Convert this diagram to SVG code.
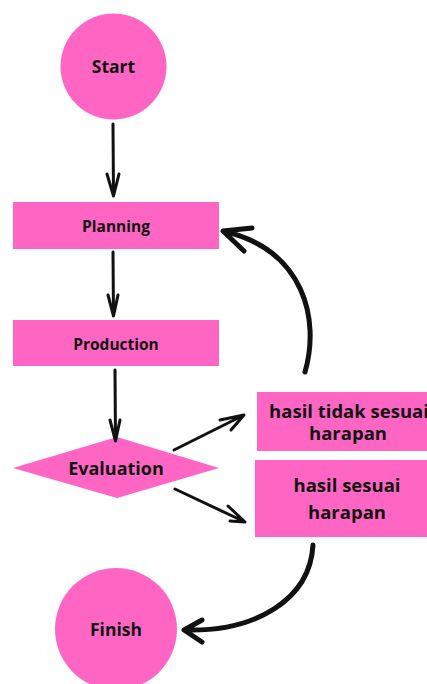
<svg xmlns="http://www.w3.org/2000/svg" width="427" height="684" viewBox="0 0 427 684">
<style>
.n{fill:#ff66c4}
.t{font-family:"Open Sans","Liberation Sans",sans-serif;font-weight:700;fill:#111;text-anchor:middle}
.c{fill:none;stroke:#111;stroke-linecap:round;stroke-linejoin:round}
.s{stroke-width:3}
.k{stroke-width:5}
</style>
<rect width="427" height="684" fill="#fff"/>
<g id="start"><circle class="n" cx="113.5" cy="66.5" r="53"/><text class="t" x="113.5" y="72.5" font-size="17.5">Start</text></g>
<g id="planning"><rect class="n" x="13" y="202" width="206" height="47"/><text class="t" x="116" y="231.5" font-size="15.5">Planning</text></g>
<g id="production"><rect class="n" x="13" y="320" width="206" height="46"/><text class="t" x="116" y="349.5" font-size="15.5">Production</text></g>
<g id="evaluation"><polygon class="n" points="13,468 117,437 219,468 117,498"/><text class="t" x="116" y="474.5" font-size="18">Evaluation</text></g>
<g id="tidak"><rect class="n" x="257" y="392" width="182" height="59"/><text class="t" x="349" y="417.5" font-size="18.5">hasil tidak sesuai</text><text class="t" x="348" y="439.5" font-size="18.5">harapan</text></g>
<g id="sesuai"><rect class="n" x="255" y="460" width="184" height="77"/><text class="t" x="347" y="492" font-size="18.5">hasil sesuai</text><text class="t" x="347" y="519" font-size="18.5">harapan</text></g>
<g id="finish"><circle class="n" cx="116" cy="629" r="61"/><text class="t" x="116" y="636" font-size="17.5">Finish</text></g>
<g id="connectors">
<path class="c s" d="M113,124 L113.5,196 M107,174 L113.5,196 L119,174"/>
<path class="c s" d="M113,252 L113.5,316 M108,295 L113.5,316 L118,295"/>
<path class="c s" d="M115,370 L115.5,441 M110,420 L115.5,441 L120,420"/>
<path class="c s" d="M174,450 L244,415 M220,420 L244,415 L231,430"/>
<path class="c s" d="M175,489 L245,522 M228,506 L245,522 L230,521"/>
<path class="c k" d="M305,372 C320,320 305,250 223,231 M252,228 L223,231 L244,251"/>
<path class="c k" d="M313,545 C310,600 255,632 185,630 M202,620 L184,630 L202,642"/>
</g>
</svg>
